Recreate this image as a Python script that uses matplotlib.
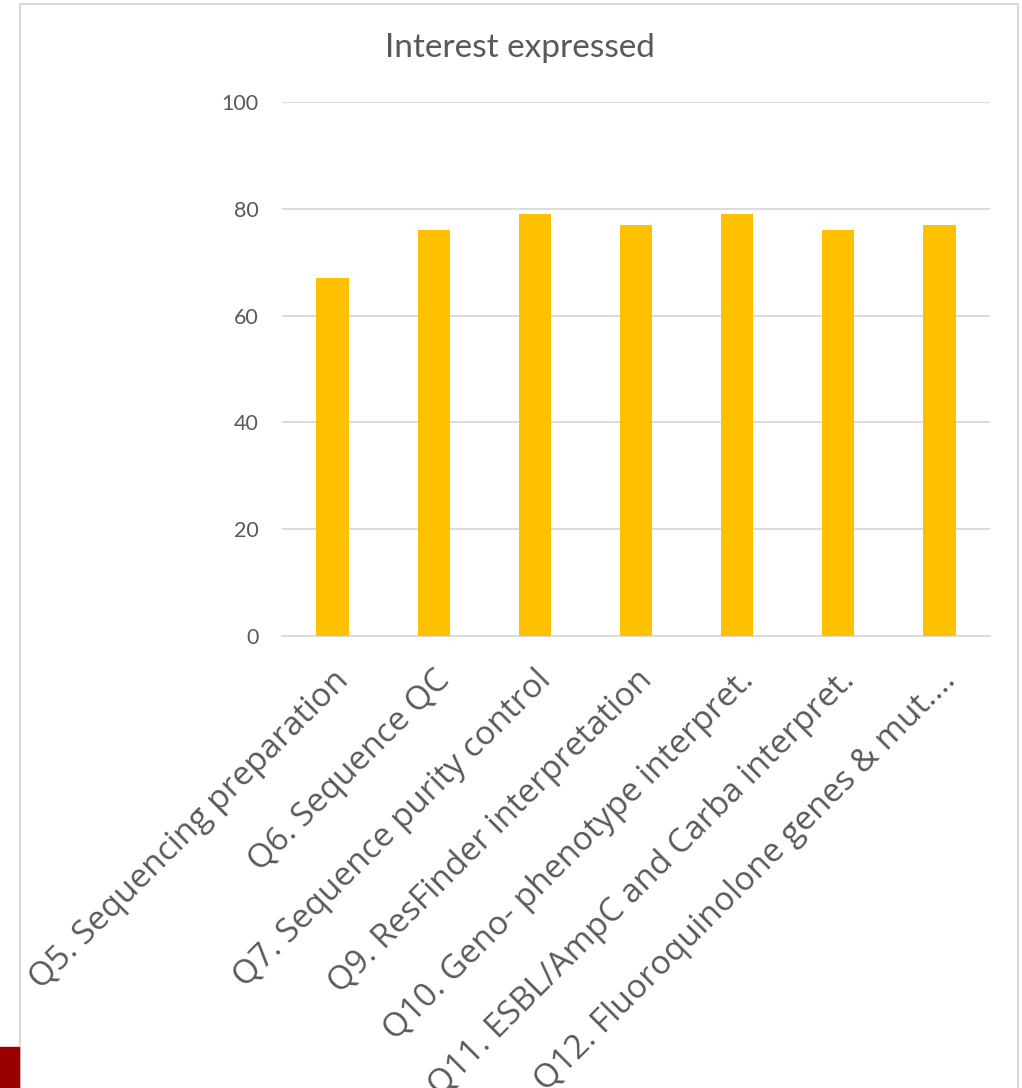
import numpy as np
import matplotlib.pyplot as plt
from matplotlib.patches import Rectangle

# data
questions = ["Q5. Sequencing preparation", "Q6. Sequence QC", "Q7. Sequence purity control",
             "Q9. ResFinder interpretation", "Q10. Geno- phenotype interpret.",
             "Q11. ESBL/AmpC and Carba interpret.", "Q12. Fluoroquinolone genes & mut...."]
interest = [67, 76, 79, 77, 79, 76, 77]
yticks = [0, 20, 40, 60, 80, 100]

fig = plt.figure(figsize=(10.22, 10.88), dpi=100)
ax = fig.add_axes([282/1022, 1-636/1088, (990-282)/1022, (636-102)/1088])

x = np.arange(len(questions))
ax.bar(x, interest, width=0.32, color="#FFC000", zorder=3)
ax.set_xlim(-0.5, len(questions)-0.5)
ax.set_ylim(0, 100)
ax.set_yticks(yticks)
ax.set_yticklabels([str(v) for v in yticks], fontsize=15.5, color="#595959", family="Lato")
ax.yaxis.grid(True, color="#D9D9D9", lw=1.3, zorder=0)
ax.tick_params(axis="y", length=0, pad=17)
ax.tick_params(axis="x", length=0, pad=20)
for s in ["top", "right", "left"]:
    ax.spines[s].set_visible(False)
ax.spines["bottom"].set_color("#D9D9D9")
ax.spines["bottom"].set_linewidth(1.3)
ax.set_xticks(x)
ax.set_xticklabels(questions, rotation=45, ha="right", va="top", rotation_mode="anchor",
                   fontsize=24, color="#595959", family="Open Sans")

fig.text(520/1022, 1-48/1088, "Interest expressed", ha="center", va="center",
         fontsize=24, color="#595959", family="Lato")

# chart frame and the red block at bottom left
fig.patches.append(Rectangle((20/1022, -0.01), 998/1022, 1.01-4/1088, transform=fig.transFigure,
                             fill=False, edgecolor="#D9D9D9", lw=1.5, zorder=0))
fig.patches.append(Rectangle((0, 0), 19/1022, 41/1088, transform=fig.transFigure,
                             color="#990000", zorder=5))

fig.savefig("out.png", dpi=100)
